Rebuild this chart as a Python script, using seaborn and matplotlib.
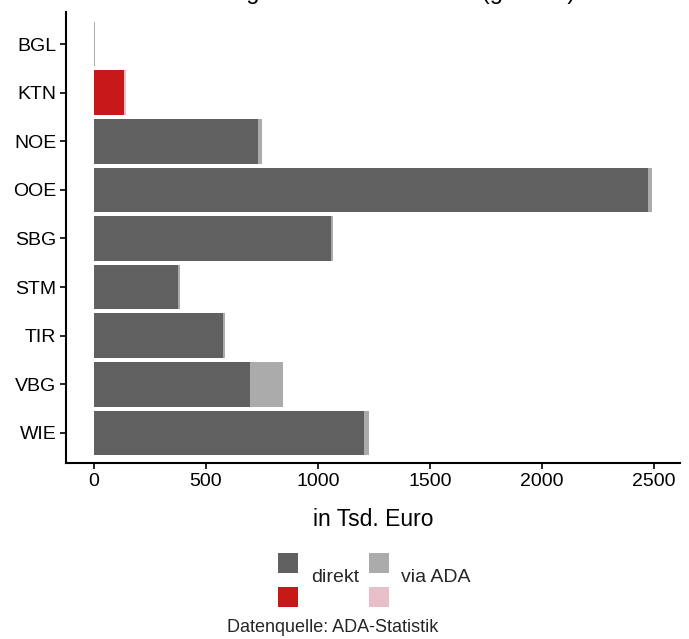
import matplotlib
matplotlib.use("Agg")
import matplotlib.pyplot as plt
from matplotlib.patches import Rectangle
import seaborn as sns
import pandas as pd

regions = ["BGL", "KTN", "NOE", "OOE", "SBG", "STM", "TIR", "VBG", "WIE"]
direkt = [0, 135, 734, 2473, 1059, 374, 578, 698, 1206]
via_ada = [3, 7, 18, 18, 9, 12, 9, 146, 22]
highlight = "KTN"

col_direkt = "#606060"
col_via = "#ababab"
col_direkt_hl = "#c8191a"
col_via_hl = "#e8bfc8"

sns.set_theme(style="white")
plt.rcParams["font.family"] = ["Liberation Sans", "DejaVu Sans"]

df = pd.DataFrame({"region": regions, "direkt": direkt, "via": via_ada})
df["total"] = df["direkt"] + df["via"]

pal_total = {r: (col_via_hl if r == highlight else col_via) for r in regions}
pal_direkt = {r: (col_direkt_hl if r == highlight else col_direkt) for r in regions}

fig = plt.figure(figsize=(6.89, 6.39), dpi=100)
ax = fig.add_axes([66 / 689, 1 - 463 / 639, (680 - 66) / 689, (463 - 12) / 639])

sns.barplot(data=df, y="region", x="total", hue="region", palette=pal_total,
            order=regions, width=0.92, dodge=False, legend=False, ax=ax,
            linewidth=0, saturation=1)
sns.barplot(data=df, y="region", x="direkt", hue="region", palette=pal_direkt,
            order=regions, width=0.92, dodge=False, legend=False, ax=ax,
            linewidth=0, saturation=1)

ax.set_xlim(-124.5, 2615.5)
ax.set_ylim(8.62, -0.66)
ax.set_xticks([0, 500, 1000, 1500, 2000, 2500])
ax.set_xticklabels(["0", "500", "1000", "1500", "2000", "2500"])
ax.set_ylabel("")
ax.set_xlabel("in Tsd. Euro", fontsize=16.5, color="black", labelpad=13)
ax.tick_params(axis="both", labelsize=14, colors="black", length=4, width=1.2,
               direction="out", left=True, bottom=True, pad=3)
for s in ["top", "right"]:
    ax.spines[s].set_visible(False)
for s in ["left", "bottom"]:
    ax.spines[s].set_color("black")
    ax.spines[s].set_linewidth(1.5)

# title (clipped at the top of the canvas in the reference)
fig.text(373 / 689, 1 + 1.5 / 639, "Leistungen nach Bundesland (gesamt)",
         ha="center", va="baseline", fontsize=17, color="black")

# legend drawn as a 2x2 key grid
W, H = 689, 639
def key(x0, y0, color):
    fig.patches.append(Rectangle((x0 / W, 1 - (y0 + 20) / H), 20 / W, 20 / H,
                                 transform=fig.transFigure, color=color, lw=0))
key(278, 553, col_direkt)
key(278, 587, col_direkt_hl)
key(369, 553, col_via)
key(369, 587, col_via_hl)
fig.text(311 / W, 1 - 578 / H, "direkt", ha="left", va="center", fontsize=14)
fig.text(401 / W, 1 - 578 / H, "via ADA", ha="left", va="center", fontsize=14)

fig.text(333 / W, 1 - 628 / H, "Datenquelle: ADA-Statistik", ha="center",
         va="center", fontsize=13)

fig.savefig("out.png", dpi=100)
